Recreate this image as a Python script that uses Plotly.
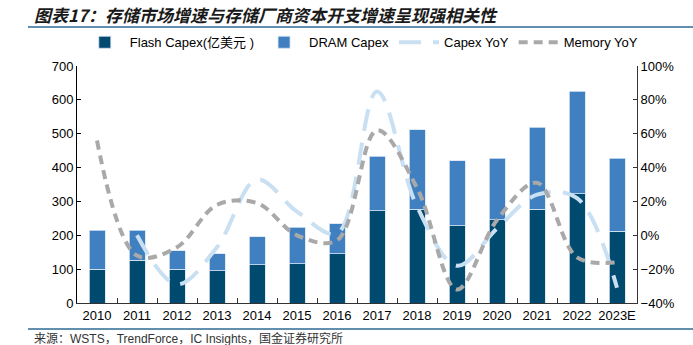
import plotly.graph_objects as go

# Years and series
years = ["2010", "2011", "2012", "2013", "2014", "2015", "2016",
         "2017", "2018", "2019", "2020", "2021", "2022", "2023E"]
flash_capex = [100, 127, 100, 95, 113, 116, 145, 272, 277, 228, 246, 277, 322, 212]
dram_capex = [115, 88, 55, 50, 83, 108, 89, 162, 235, 192, 181, 242, 304, 215]
capex_yoy = [None, 0, -29, -7, 33, 14, 1, 85, 17, -18, 4, 24, 22, -31]
memory_yoy = [56, -12, -7, 18, 19, 0, -3, 62, 28, -32, 9, 31, -13, -16]

title_text = "图表17：存储市场增速与存储厂商资本开支增速呈现强相关性"
source_text = "来源：WSTS，TrendForce，IC Insights，国金证券研究所"

FONT = "Liberation Sans, Arial, Noto Sans CJK SC, sans-serif"
CJK = "Noto Sans CJK SC, sans-serif"

fig = go.Figure()

fig.add_trace(go.Bar(
    x=years, y=flash_capex, name="Flash Capex(亿美元 )",
    marker=dict(color="#004a70", line=dict(color="#d6e4f2", width=0.8)),
))
fig.add_trace(go.Bar(
    x=years, y=dram_capex, name="DRAM Capex",
    marker=dict(color="#4080c0", line=dict(color="#d6e4f2", width=0.8)),
))
fig.add_trace(go.Scatter(
    x=years, y=capex_yoy, name="Capex YoY", yaxis="y2", mode="lines",
    line=dict(color="#c9dff2", width=4, dash="22px,12px", shape="spline"),
))
fig.add_trace(go.Scatter(
    x=years, y=memory_yoy, name="Memory YoY", yaxis="y2", mode="lines",
    line=dict(color="#a9a9a9", width=4, dash="9px,6px", shape="spline"),
))

fig.update_layout(
    width=693, height=345,
    margin=dict(l=77, r=56, t=66, b=42, autoexpand=False),
    paper_bgcolor="white", plot_bgcolor="white",
    barmode="stack", bargap=0.6,
    font=dict(family=FONT, size=13, color="#000000"),
    showlegend=True,
    legend=dict(
        orientation="h", x=0.005, y=1.10, xanchor="left", yanchor="middle",
        font=dict(family=FONT, size=13, color="#000000"),
        itemwidth=40, traceorder="normal", bgcolor="rgba(0,0,0,0)",
    ),
    xaxis=dict(
        type="category", showline=True, linecolor="#333333", linewidth=1,
        ticks="inside", tickson="boundaries", ticklen=5, tickcolor="#333333",
        showgrid=False, tickfont=dict(size=13), tickangle=0, automargin=False,
    ),
    yaxis=dict(
        range=[0, 700], dtick=100, showline=True, linecolor="#000000",
        linewidth=1, ticks="inside", ticklen=4, tickcolor="#000000",
        showgrid=False, zeroline=False, tickfont=dict(size=13), automargin=False,
    ),
    yaxis2=dict(
        range=[-40, 100], dtick=20, ticksuffix="%", overlaying="y",
        side="right", showline=True, linecolor="#333333", linewidth=1,
        ticks="inside", ticklen=4, tickcolor="#333333",
        showgrid=False, zeroline=False, tickfont=dict(size=13), automargin=False,
    ),
    shapes=[
        dict(type="line", xref="paper", yref="paper", x0=-0.0875, x1=1.11,
             y0=1.165, y1=1.165, line=dict(color="#2f6a94", width=1.5)),
        dict(type="line", xref="paper", yref="paper", x0=-0.0875, x1=1.11,
             y0=-0.11, y1=-0.11, line=dict(color="#2f6a94", width=1.5)),
    ],
    annotations=[
        dict(text="<b><i>" + title_text + "</i></b>", xref="paper", yref="paper",
             x=-0.08, y=1.219, xanchor="left", yanchor="middle", showarrow=False,
             font=dict(family=CJK, size=17, color="#1a1a1a")),
        dict(text=source_text, xref="paper", yref="paper",
             x=-0.08, y=-0.148, xanchor="left", yanchor="middle", showarrow=False,
             font=dict(family="Liberation Sans, Noto Sans CJK SC, sans-serif",
                       size=12, color="#333333")),
    ],
)

fig.write_html("out.html")
